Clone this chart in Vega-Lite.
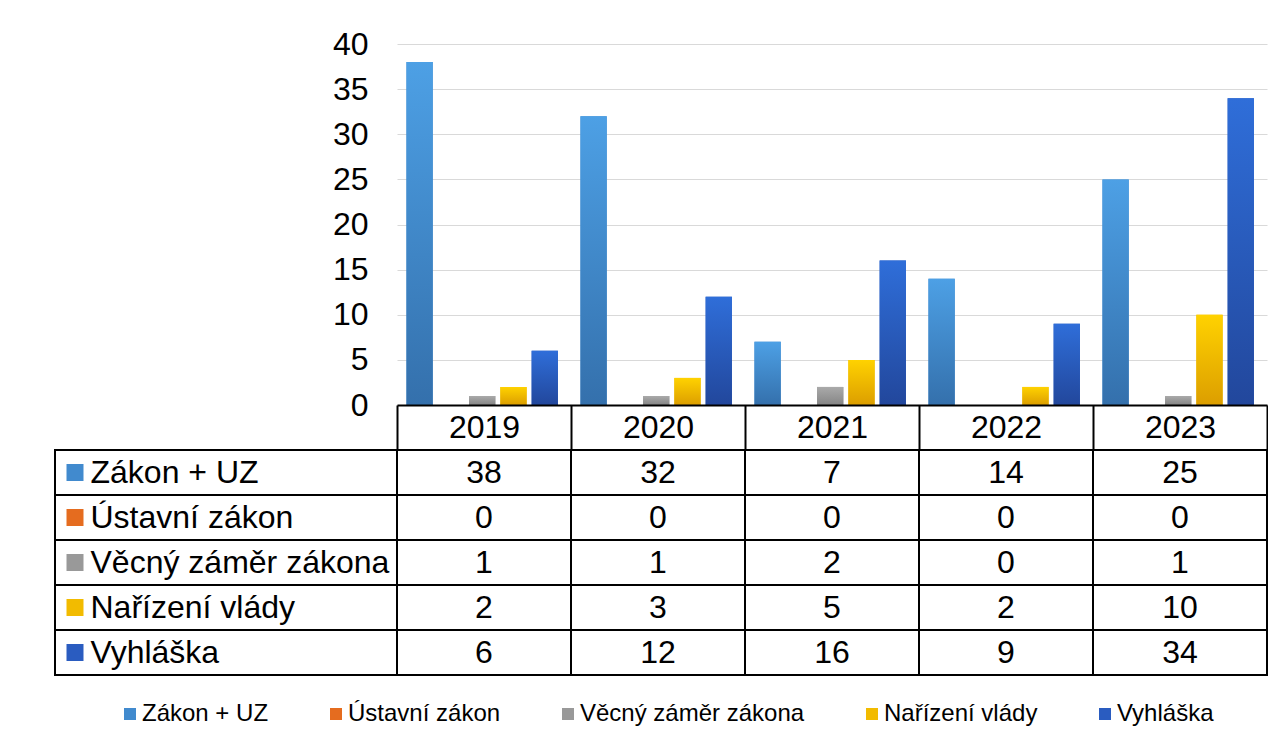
{
  "$schema": "https://vega.github.io/schema/vega-lite/v6.json",
  "padding": {"left": 54, "top": 28, "right": 0, "bottom": 0},
  "background": "white",
  "config": {"font": "Liberation Sans", "view": {"stroke": null}},
  "datasets": {
    "counts": [
      {"year": "2019", "series": "Zákon + UZ", "count": 38},
      {"year": "2019", "series": "Ústavní zákon", "count": 0},
      {"year": "2019", "series": "Věcný záměr zákona", "count": 1},
      {"year": "2019", "series": "Nařízení vlády", "count": 2},
      {"year": "2019", "series": "Vyhláška", "count": 6},
      {"year": "2020", "series": "Zákon + UZ", "count": 32},
      {"year": "2020", "series": "Ústavní zákon", "count": 0},
      {"year": "2020", "series": "Věcný záměr zákona", "count": 1},
      {"year": "2020", "series": "Nařízení vlády", "count": 3},
      {"year": "2020", "series": "Vyhláška", "count": 12},
      {"year": "2021", "series": "Zákon + UZ", "count": 7},
      {"year": "2021", "series": "Ústavní zákon", "count": 0},
      {"year": "2021", "series": "Věcný záměr zákona", "count": 2},
      {"year": "2021", "series": "Nařízení vlády", "count": 5},
      {"year": "2021", "series": "Vyhláška", "count": 16},
      {"year": "2022", "series": "Zákon + UZ", "count": 14},
      {"year": "2022", "series": "Ústavní zákon", "count": 0},
      {"year": "2022", "series": "Věcný záměr zákona", "count": 0},
      {"year": "2022", "series": "Nařízení vlády", "count": 2},
      {"year": "2022", "series": "Vyhláška", "count": 9},
      {"year": "2023", "series": "Zákon + UZ", "count": 25},
      {"year": "2023", "series": "Ústavní zákon", "count": 0},
      {"year": "2023", "series": "Věcný záměr zákona", "count": 1},
      {"year": "2023", "series": "Nařízení vlády", "count": 10},
      {"year": "2023", "series": "Vyhláška", "count": 34}
    ],
    "series": [
      {"series": "Zákon + UZ"},
      {"series": "Ústavní zákon"},
      {"series": "Věcný záměr zákona"},
      {"series": "Nařízení vlády"},
      {"series": "Vyhláška"}
    ]
  },
  "columns": 2,
  "spacing": {"row": 45, "column": 0},
  "bounds": "flush",
  "resolve": {"scale": {"color": "shared"}},
  "concat": [
    {
      "width": 342,
      "height": 361,
      "data": {"values": []},
      "mark": "point"
    },
    {
      "width": 870,
      "height": 361,
      "data": {"name": "counts"},
      "encoding": {
        "x": {
          "field": "year", "type": "ordinal",
          "scale": {"paddingInner": 0, "paddingOuter": 0},
          "axis": {
            "title": null, "orient": "bottom", "zindex": 2,
            "domain": true, "domainColor": "black", "domainWidth": 2,
            "ticks": true, "tickBand": "extent", "tickExtra": true, "tickSize": 45, "tickColor": "black", "tickWidth": 2,
            "labelFontSize": 32, "labelColor": "black", "labelPadding": -38, "labelAngle": 0, "grid": false
          }
        },
        "xOffset": {
          "field": "series", "type": "nominal",
          "sort": ["Zákon + UZ", "Ústavní zákon", "Věcný záměr zákona", "Nařízení vlády", "Vyhláška"],
          "scale": {"paddingInner": 0.16, "paddingOuter": 0.36, "align": 0.42}
        },
        "y": {
          "field": "count", "type": "quantitative",
          "scale": {"domain": [0, 40]},
          "axis": {
            "title": null, "values": [0, 5, 10, 15, 20, 25, 30, 35, 40],
            "domain": false, "ticks": false, "tickSize": 0, "labelPadding": 29,
            "labelFontSize": 32, "labelColor": "black",
            "grid": true, "gridColor": "#d9d9d9", "gridWidth": 1
          }
        }
      },
      "layer": [
        {
          "mark": {"type": "bar"},
          "encoding": {
            "color": {
              "field": "series", "type": "nominal",
              "sort": ["Zákon + UZ", "Ústavní zákon", "Věcný záměr zákona", "Nařízení vlády", "Vyhláška"],
              "scale": {
                "domain": ["Zákon + UZ", "Ústavní zákon", "Věcný záměr zákona", "Nařízení vlády", "Vyhláška"],
                "range": ["#418ace", "#e56c1f", "#999999", "#f2bb00", "#2a5cc0"]
              },
              "legend": {
                "title": null, "orient": "none", "legendX": 63, "legendY": 658,
                "direction": "horizontal", "symbolType": "square", "symbolSize": 144, "symbolStrokeWidth": 0,
                "labelFontSize": 24, "labelColor": "black", "labelOffset": 0, "columnPadding": 55, "labelLimit": 400
              }
            }
          }
        },
        {
          "transform": [{"filter": "datum.series === 'Zákon + UZ'"}],
          "mark": {"type": "bar", "color": {"gradient": "linear", "x1": 0, "y1": 0, "x2": 0, "y2": 1, "stops": [{"offset": 0, "color": "#4da0e5"}, {"offset": 1, "color": "#3470ac"}]}}
        },
        {
          "transform": [{"filter": "datum.series === 'Věcný záměr zákona'"}],
          "mark": {"type": "bar", "color": {"gradient": "linear", "x1": 0, "y1": 0, "x2": 0, "y2": 1, "stops": [{"offset": 0, "color": "#aaaaaa"}, {"offset": 1, "color": "#858585"}]}}
        },
        {
          "transform": [{"filter": "datum.series === 'Nařízení vlády'"}],
          "mark": {"type": "bar", "color": {"gradient": "linear", "x1": 0, "y1": 0, "x2": 0, "y2": 1, "stops": [{"offset": 0, "color": "#ffd200"}, {"offset": 1, "color": "#dc9e00"}]}}
        },
        {
          "transform": [{"filter": "datum.series === 'Vyhláška'"}],
          "mark": {"type": "bar", "color": {"gradient": "linear", "x1": 0, "y1": 0, "x2": 0, "y2": 1, "stops": [{"offset": 0, "color": "#2f6ed9"}, {"offset": 1, "color": "#22479c"}]}}
        }
      ]
    },
    {
      "width": 342,
      "height": 225,
      "data": {"name": "series"},
      "encoding": {
        "y": {
          "field": "series", "type": "nominal",
          "sort": ["Zákon + UZ", "Ústavní zákon", "Věcný záměr zákona", "Nařízení vlády", "Vyhláška"],
          "scale": {"paddingInner": 0, "paddingOuter": 0},
          "axis": {
            "title": null, "orient": "left", "domain": false, "ticks": false, "tickSize": 0,
            "labelAlign": "left", "labelPadding": -35, "labelFontSize": 32, "labelColor": "black",
            "labelBaseline": "middle", "labelLimit": 400, "zindex": 1
          }
        }
      },
      "layer": [
        {"mark": {"type": "rect", "fill": "transparent", "stroke": "black", "strokeWidth": 2}},
        {
          "mark": {"type": "point", "shape": "square", "filled": true, "size": 289, "opacity": 1},
          "encoding": {
            "x": {"datum": 20, "type": "quantitative", "scale": {"domain": [0, 342]}, "axis": null},
            "color": {"field": "series", "type": "nominal", "legend": null}
          }
        }
      ]
    },
    {
      "width": 870,
      "height": 225,
      "data": {"name": "counts"},
      "encoding": {
        "x": {"field": "year", "type": "ordinal", "scale": {"paddingInner": 0, "paddingOuter": 0}, "axis": null},
        "y": {
          "field": "series", "type": "nominal",
          "sort": ["Zákon + UZ", "Ústavní zákon", "Věcný záměr zákona", "Nařízení vlády", "Vyhláška"],
          "scale": {"paddingInner": 0, "paddingOuter": 0}, "axis": null
        }
      },
      "layer": [
        {"mark": {"type": "rect", "fill": "transparent", "stroke": "black", "strokeWidth": 2}},
        {
          "mark": {"type": "text", "fontSize": 32, "color": "black", "baseline": "middle"},
          "encoding": {"text": {"field": "count", "type": "quantitative"}}
        }
      ]
    }
  ]
}
